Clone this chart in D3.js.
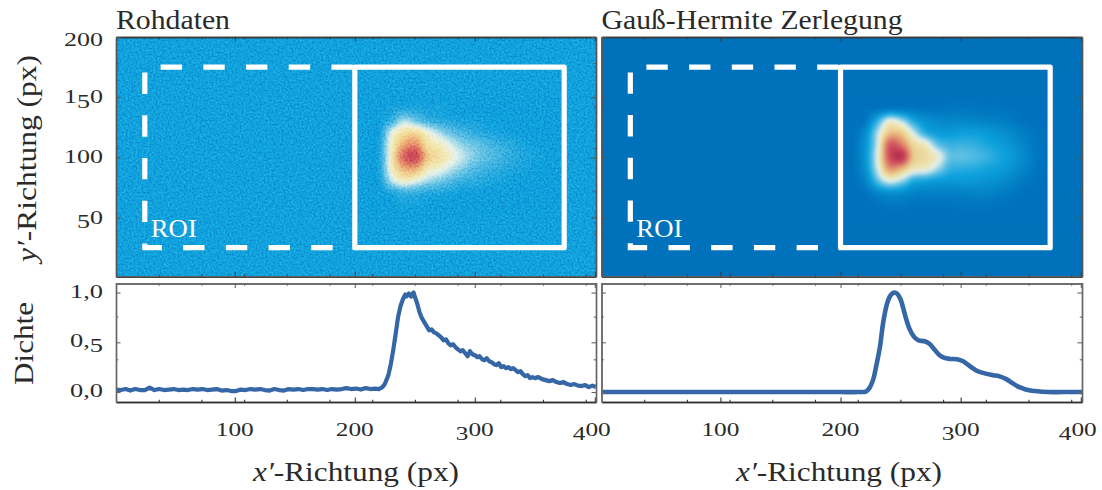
<!DOCTYPE html>
<html><head><meta charset="utf-8">
<script src="https://cdn.jsdelivr.net/npm/d3@7"></script>
<style>
html,body{margin:0;padding:0;background:#fff}
svg{display:block}
text{font-family:"Liberation Serif",serif;fill:#2a2a2a}
</style></head><body>
<svg id="c" width="1102" height="490"></svg>
<script>
// ---------- data ----------
const xMajorTicks = [100, 200, 300, 400];
const imgYTicks = [50, 100, 150, 200];
const densityTicks = [0, 0.5, 1];
const densityLabels = ["0,0", "0,5", "1,0"];
const panelTitles = ["Rohdaten", "Gauß-Hermite Zerlegung"];

const rawX = [1,5,9,13,17,21,25,29,33,37,41,45,49,53,57,61,65,69,73,77,81,85,89,93,97,101,105,109,113,117,121,125,129,133,137,141,145,149,153,157,161,165,169,173,177,181,185,189,193,197,201,205,209,213,217,220,223,225,228,230,232,234,236,238,240,242,243,245,246,247,248,249,250,252,254,256,258,260,262,264,266,268,270,272,274,276,278,280,282,284,286,288,290,292,294,296,298,300,302,304,306,308,310,312,314,316,318,320,322,324,326,328,330,332,334,336,338,340,342,344,346,348,350,353,356,359,362,365,368,371,374,377,380,383,386,389,392,395,398,401];
const rawDensity = [.025,.02,.03,.015,.03,.02,.02,.045,.02,.03,.02,.025,.03,.02,.025,.02,.03,.025,.03,.02,.025,.03,.015,.02,.01,.01,.025,.02,.03,.025,.03,.02,.015,.03,.02,.015,.03,.025,.03,.02,.03,.03,.025,.03,.02,.03,.025,.03,.04,.03,.035,.025,.04,.03,.035,.03,.05,.08,.17,.28,.42,.58,.75,.86,.93,.98,.96,.99,.97,.96,.99,1,.96,.89,.8,.74,.7,.66,.62,.63,.6,.59,.57,.55,.52,.53,.49,.47,.48,.45,.43,.41,.42,.39,.36,.41,.38,.37,.35,.36,.33,.32,.34,.31,.3,.28,.27,.29,.25,.26,.24,.25,.23,.24,.22,.2,.21,.18,.16,.17,.14,.15,.14,.15,.13,.12,.11,.12,.1,.09,.1,.08,.07,.08,.065,.06,.07,.05,.065,.05,.055,.05];
const fitX = [1,50,100,150,200,215,221,224,227,230,233,235,237,239,241,243,245,247,250,252,254,256,258,260,262,265,270,274,278,282,286,291,297,302,306,310,314,321,327,333,338,343,347,351,356,362,373,385,401];
const fitDensity = [0,0,0,0,0,0,.005,.04,.12,.28,.47,.66,.8,.9,.96,.99,1,.99,.93,.85,.76,.68,.62,.575,.545,.52,.51,.485,.43,.375,.345,.333,.33,.31,.275,.24,.21,.185,.17,.155,.13,.09,.06,.04,.02,.01,0,0,0];

const gridX = [210,220,230,240,250,260,270,280,290,300,310,320,330,340,350,360,370];
const gridY = [150,140,130,120,110,100,90,80,70,60,50];
const rawBg = 0.18, fitBg = 0.0;
const rawGrid = [
 [.18,.18,.18,.18,.18,.18,.18,.18,.18,.18,.18,.18,.18,.18,.18,.18,.18],
 [.18,.18,.19,.2,.2,.19,.19,.18,.18,.18,.18,.18,.18,.18,.18,.18,.18],
 [.18,.18,.23,.36,.3,.24,.21,.2,.19,.19,.18,.18,.18,.18,.18,.18,.18],
 [.18,.18,.42,.54,.56,.45,.36,.29,.25,.22,.2,.19,.18,.18,.18,.18,.18],
 [.18,.2,.47,.68,.74,.54,.48,.4,.33,.3,.26,.23,.21,.19,.18,.18,.18],
 [.18,.2,.5,.82,.9,.62,.54,.45,.38,.32,.28,.25,.22,.2,.19,.18,.18],
 [.18,.2,.48,.66,.68,.5,.45,.38,.32,.27,.24,.22,.2,.19,.18,.18,.18],
 [.18,.18,.38,.48,.44,.36,.32,.27,.23,.22,.2,.19,.18,.18,.18,.18,.18],
 [.18,.18,.2,.24,.23,.21,.2,.19,.18,.18,.18,.18,.18,.18,.18,.18,.18],
 [.18,.18,.18,.19,.19,.18,.18,.18,.18,.18,.18,.18,.18,.18,.18,.18,.18],
 [.18,.18,.18,.18,.18,.18,.18,.18,.18,.18,.18,.18,.18,.18,.18,.18,.18]];
const fitGrid = [
 [0,0,0,0,0,0,0,0,0,0,0,0,0,0,0,0,0],
 [0,0,.01,.03,.03,.02,.01,.01,.02,.02,.02,.01,.01,.01,0,0,0],
 [0,.02,.22,.43,.36,.2,.12,.09,.08,.08,.07,.06,.05,.03,.01,0,0],
 [0,.1,.36,.62,.6,.4,.22,.16,.15,.17,.17,.15,.12,.09,.05,.02,0],
 [.01,.13,.4,.84,.78,.56,.48,.3,.24,.24,.23,.2,.17,.13,.08,.03,0],
 [.01,.14,.43,.87,.97,.62,.55,.46,.3,.29,.27,.24,.2,.16,.1,.04,.01],
 [.01,.12,.4,.72,.66,.5,.47,.36,.24,.22,.21,.19,.17,.13,.08,.03,0],
 [0,.07,.28,.43,.36,.22,.19,.16,.15,.15,.15,.13,.11,.08,.04,.01,0],
 [0,.01,.08,.12,.11,.07,.06,.06,.06,.06,.07,.07,.05,.03,.01,0,0],
 [0,0,.01,.02,.02,.01,.01,.01,.01,.02,.02,.02,.01,.01,0,0,0],
 [0,0,0,0,0,0,0,0,0,0,0,0,0,0,0,0,0]];

const colourStops = [0,.18,.3,.42,.5,.6,.72,.86,1];
const colourValues = ["#0072bc","#0fa4de","#6cc7e6","#f0f5ee","#faedb4","#f9d48e","#f19a6c","#dc5259","#c0284a"];
const dashedRoi = [[200,175],[25,175],[25,25],[200,25]];
const solidRoi = [[200,175],[374.5,175],[374.5,25],[200,25]];
const roiLabel = "ROI";

// ---------- drawing ----------
const svg = d3.select("#c");
const defs = svg.append("defs");
defs.append("filter").attr("id","soft").attr("x","-5%").attr("y","-5%").attr("width","110%").attr("height","110%")
  .attr("color-interpolation-filters","sRGB")
  .append("feGaussianBlur").attr("stdDeviation",0.9);
function grain(id,seed,r,g,b,freq,a,k){
  const f=defs.append("filter").attr("id",id).attr("x",0).attr("y",0).attr("width","100%").attr("height","100%")
    .attr("color-interpolation-filters","sRGB");
  f.append("feTurbulence").attr("type","fractalNoise").attr("baseFrequency",freq).attr("numOctaves",2).attr("seed",seed);
  f.append("feColorMatrix").attr("type","matrix").attr("values",`0 0 0 0 ${r} 0 0 0 0 ${g} 0 0 0 0 ${b} ${a} 0 0 0 ${k}`);
}
grain("gLight",3,1,1,1,.5,3,-1.2);
grain("gDark",8,0,0,0,.5,3,-1.2);

const colour = d3.scaleLinear().domain(colourStops).range(colourValues).clamp(true);
const panels = [
 {x0:116,x1:596,grid:rawGrid,bg:rawBg,line:[rawX,rawDensity],curve:d3.curveLinear,noise:true,lw:4.2},
 {x0:601.5,x1:1082,grid:fitGrid,bg:fitBg,line:[fitX,fitDensity],curve:d3.curveCatmullRom,noise:false,lw:4.6}
];
const imgTop=37, imgBot=276.6, lineTop=283.5, lineBot=402;
const yImg = d3.scaleLinear().domain([1,200]).range([imgBot,imgTop]);
const yLine = d3.scaleLinear().domain([-0.1,1.1]).range([lineBot,lineBot-119.4]);
const minorStep = 42.7;

function oldStyle(sel,str,size){
  // digits 3,4,5,7,9 hang below the baseline as in the original old-style numerals
  let off=0;
  for(const ch of str){
    const d=/[34579]/.test(ch)?size*0.24:0;
    sel.append("tspan").attr("dy",d-off).text(ch);
    off=d;
  }
}
// smooth display of the coarse grid (as an image viewer's bicubic mode does)
function cubic(a,b,c,d,t){
  return b+0.5*t*(c-a+t*(2*a-5*b+4*c-d+t*(3*(b-c)+d-a)));
}
function sample(grid,gx,gy){
  const nx=gridX.length, ny=gridY.length;
  const fx=(gx-gridX[0])/10, fy=(gridY[0]-gy)/10;
  const i=Math.min(nx-2,Math.floor(fx)), j=Math.min(ny-2,Math.floor(fy));
  const cl=(v,n)=>Math.max(0,Math.min(n-1,v));
  const rowAt=r=>cubic(grid[r][cl(i-1,nx)],grid[r][i],grid[r][i+1],grid[r][cl(i+2,nx)],fx-i);
  return cubic(rowAt(cl(j-1,ny)),rowAt(j),rowAt(j+1),rowAt(cl(j+2,ny)),fy-j);
}

panels.forEach((p,i)=>{
  const x=d3.scaleLinear().domain([1,401]).range([p.x0,p.x1]);
  const g=svg.append("g");
  const clipId="clip"+i;
  defs.append("clipPath").attr("id",clipId).append("rect")
    .attr("x",p.x0).attr("y",imgTop).attr("width",p.x1-p.x0).attr("height",imgBot-imgTop);
  const im=g.append("g").attr("clip-path",`url(#${clipId})`).style("isolation","isolate");
  im.append("rect").attr("x",p.x0).attr("y",imgTop).attr("width",p.x1-p.x0).attr("height",imgBot-imgTop).attr("fill",colour(p.bg));
  const stepD=5/3, cw=x(stepD)-x(0), ch=yImg(0)-yImg(stepD);
  const cells=[];
  d3.range(gridX[0],gridX[gridX.length-1],stepD).forEach(dx=>{
    d3.range(gridY[gridY.length-1],gridY[0],stepD).forEach(dy=>cells.push({x:dx,y:dy,v:sample(p.grid,dx,dy)}));
  });
  im.append("g").attr("filter","url(#soft)").selectAll("rect").data(cells).join("rect")
    .attr("x",d=>x(d.x)-.2).attr("y",d=>yImg(d.y)-ch-.2)
    .attr("width",cw+.4).attr("height",ch+.4).attr("fill",d=>colour(d.v));
  if(p.noise){
    ["gLight","gDark"].forEach((f,k)=>im.append("rect").attr("x",p.x0).attr("y",imgTop)
      .attr("width",p.x1-p.x0).attr("height",imgBot-imgTop).attr("filter",`url(#${f})`)
      .attr("opacity",k?.5:.45).style("mix-blend-mode","soft-light"));
  }
  // ROI
  const roi=d3.line().x(d=>x(d[0])).y(d=>yImg(d[1]));
  im.append("path").attr("d",roi(dashedRoi)).attr("fill","none").attr("stroke","#fff").attr("stroke-width",5.2)
    .attr("stroke-dasharray","21.35 21.35").attr("stroke-dashoffset",-2);
  im.append("path").attr("d",roi(solidRoi)+"Z").attr("fill","none").attr("stroke","#fff").attr("stroke-width",5.2).attr("stroke-linejoin","round");
  g.append("text").attr("x",x(25)+6).attr("y",yImg(25)-11).attr("font-size",26).style("fill","#fff")
    .attr("textLength",46).attr("lengthAdjust","spacingAndGlyphs").text(roiLabel);

  // line panel
  const ln=d3.line().x((d,k)=>x(p.line[0][k])).y(d=>yLine(d)).curve(p.curve);
  const lclip="lclip"+i;
  defs.append("clipPath").attr("id",lclip).append("rect")
    .attr("x",p.x0).attr("y",lineTop).attr("width",p.x1-p.x0).attr("height",lineBot-lineTop);
  g.append("path").attr("clip-path",`url(#${lclip})`).attr("d",ln(p.line[1])).attr("fill","none")
    .attr("stroke","#3566a6").attr("stroke-width",p.lw).attr("stroke-linejoin","round");

  // axes: same pixel spacing of the secondary ticks in both directions
  const xMinorVals=d3.range(1,12).map(k=>x.invert(p.x0+k*minorStep)).filter(v=>v<401);
  const yImgMinor=d3.range(1,6).map(k=>yImg.invert(imgBot-k*minorStep));
  const yLineMinor=d3.range(1,3).map(k=>yLine.invert(lineBot-k*minorStep));
  const axisStyle=(s,col)=>{s.selectAll("path").attr("stroke",col).attr("stroke-width",1.4);
    s.selectAll("line").attr("stroke",col).attr("stroke-width",1.1);s.selectAll("text").remove();};
  const put=(axis,tx,ty,col)=>g.append("g").attr("transform",`translate(${tx},${ty})`).call(axis).call(axisStyle,col||"#555");
  const both=(maker,scale,maj,min,len,tx,ty,col)=>{
    put(maker(scale).tickValues(maj).tickSizeInner(-len).tickSizeOuter(0),tx,ty,col);
    put(maker(scale).tickValues(min).tickSizeInner(-len/2).tickSizeOuter(0),tx,ty,col);
  };
  const xMaj=xMajorTicks;
  both(d3.axisBottom,x,xMaj,xMinorVals,4.5,0,imgBot,"#3a3a3a");
  both(d3.axisTop,x,xMaj,xMinorVals,4.5,0,imgTop,"#3a3a3a");
  both(d3.axisLeft,yImg,imgYTicks,yImgMinor,4.5,p.x0,0);
  both(d3.axisRight,yImg,imgYTicks,yImgMinor,4.5,p.x1,0);
  both(d3.axisBottom,x,xMaj,xMinorVals,4.5,0,lineBot,"#333");
  both(d3.axisTop,x,xMaj,xMinorVals,4.5,0,lineTop,"#666");
  both(d3.axisLeft,yLine,densityTicks,yLineMinor,4.5,p.x0,0,"#666");
  both(d3.axisRight,yLine,densityTicks,yLineMinor,4.5,p.x1,0,"#666");

  // x labels
  xMajorTicks.forEach(v=>{
    const t=g.append("text").attr("x",x(v)-(v===400?3:0)).attr("y",436).attr("text-anchor","middle")
      .attr("font-size",18).attr("textLength",38).attr("lengthAdjust","spacingAndGlyphs");
    oldStyle(t,String(v),18);
  });
  g.append("text").attr("x",p.x0).attr("y",29).attr("font-size",27)
    .attr("textLength",i?301:114).attr("lengthAdjust","spacingAndGlyphs").text(panelTitles[i]);
  const xl=g.append("text").attr("x",i?736:253).attr("y",481).attr("font-size",27)
    .attr("textLength",206).attr("lengthAdjust","spacingAndGlyphs");
  xl.append("tspan").attr("font-style","italic").text("x′");
  xl.append("tspan").text("-Richtung (px)");
});

// y labels of the left column
const tx=103;
imgYTicks.forEach(v=>{
  const s=String(v);
  const t=svg.append("text").attr("x",tx).attr("y",yImg(v)+(v===200?9:6)).attr("text-anchor","end")
    .attr("font-size",18).attr("textLength",s.length*13).attr("lengthAdjust","spacingAndGlyphs");
  oldStyle(t,s,18);
});
densityTicks.forEach((v,k)=>{
  const t=svg.append("text").attr("x",tx).attr("y",yLine(v)+5).attr("text-anchor","end")
    .attr("font-size",18).attr("textLength",33).attr("lengthAdjust","spacingAndGlyphs");
  oldStyle(t,densityLabels[k],18);
});
const yl=svg.append("text").attr("transform","translate(36,262) rotate(-90)").attr("font-size",27)
  .attr("textLength",207).attr("lengthAdjust","spacingAndGlyphs");
yl.append("tspan").attr("font-style","italic").text("y′");
yl.append("tspan").text("-Richtung (px)");
svg.append("text").attr("transform","translate(33,385) rotate(-90)").attr("font-size",28)
  .attr("textLength",83).attr("lengthAdjust","spacingAndGlyphs").text("Dichte");
</script>
</body></html>
